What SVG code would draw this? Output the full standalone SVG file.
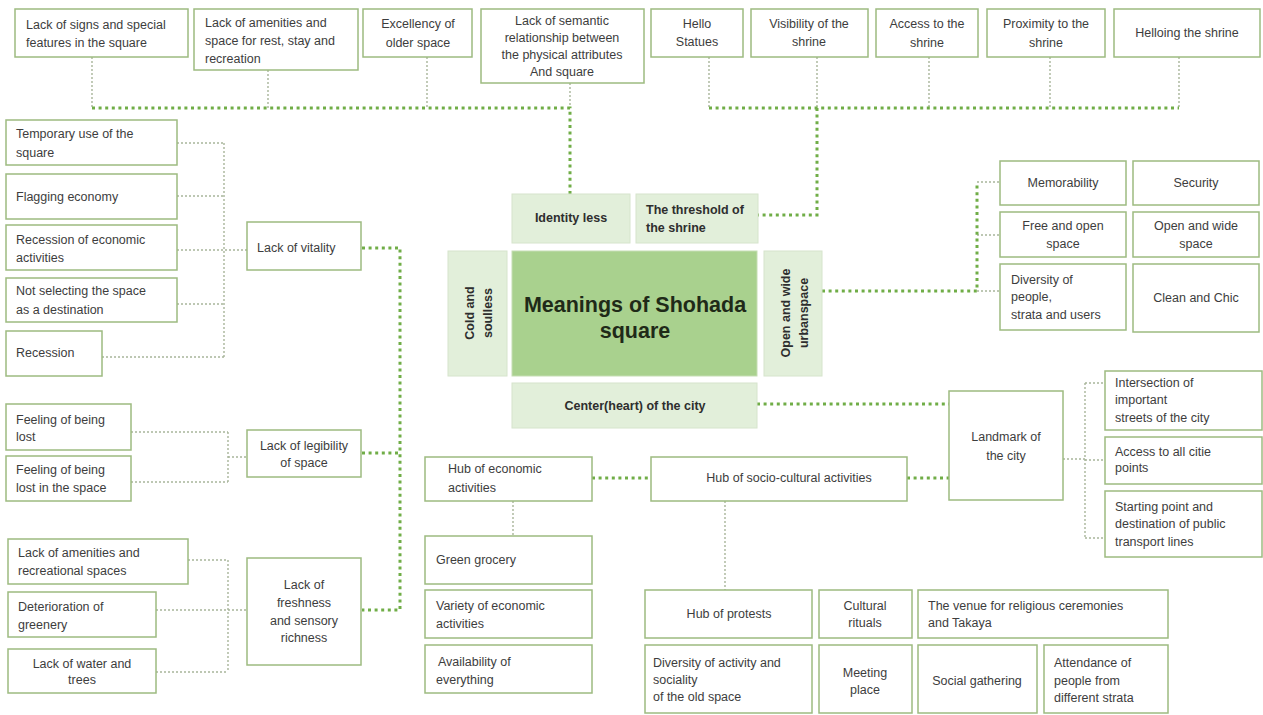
<svg xmlns="http://www.w3.org/2000/svg" width="1263" height="715" viewBox="0 0 1263 715">
<style>
.bx{fill:#fff;stroke:#9dbb80;stroke-width:1.5}
.cb{fill:#e2efda;stroke:#d6e4cc;stroke-width:1}
.mb{fill:#a9d18e;stroke:#c5ddb3;stroke-width:1}
text{font-family:"Liberation Sans",Arial,sans-serif;font-size:12.5px;fill:#3d3d3d}
.c{text-anchor:middle}
.b{font-weight:bold;fill:#2e2e2e}
.title{font-size:21.5px;font-weight:bold;fill:#1f2a18;text-anchor:middle}
.thk{fill:none;stroke:#70ad47;stroke-width:3;stroke-dasharray:3 3.6}
.thn{fill:none;stroke:#a8b59a;stroke-width:1.4;stroke-dasharray:2 2}
</style>
<rect width="1263" height="715" fill="#fff"/>
<g id="connectors">
<path class="thn" d="M92,57V108M268,70V108M427,57V108M570,83V108M709,57V108M817,57V108M929,57V108M1050,57V108M1179,57V108"/>
<path class="thn" d="M977,182H1000M977,235H1000M977,291H1000"/>
<path class="thn" d="M1063,459H1085M1085,383V538M1085,383H1105M1085,460H1105M1085,538H1105"/>
<path class="thn" d="M513,501V536M725,501V590"/>
<path class="thn" d="M177,143H224M177,196H224M177,250H247M177,304H224M102,357H224M224,143V357"/>
<path class="thn" d="M131,432H228M131,482H228M228,432V482M228,457H247"/>
<path class="thn" d="M188,560H228M156,610H247M156,672H228M228,560V672"/>
<path class="thk" d="M92,108H570V194"/>
<path class="thk" d="M709,108H1179"/>
<path class="thk" d="M817,108V215H758"/>
<path class="thk" d="M822,291H977V182"/>
<path class="thk" d="M757,404H949"/>
<path class="thk" d="M907,478H949"/>
<path class="thk" d="M592,478H651"/>
<path class="thk" d="M362,248H400V610H362"/>
<path class="thk" d="M362,453H400"/>
</g>
<g id="n-signs"><rect class="bx" x="15" y="9" width="173" height="48"/><text x="26" y="29">Lack of signs and special</text><text x="26" y="47">features in the square</text></g>
<g id="n-amenities-rest"><rect class="bx" x="194" y="9" width="164" height="61"/><text x="205" y="27">Lack of amenities and</text><text x="205" y="45">space for rest, stay and</text><text x="205" y="63">recreation</text></g>
<g id="n-excellency"><rect class="bx" x="363" y="9" width="109" height="48"/><text class="c" x="418" y="28">Excellency of</text><text class="c" x="418" y="47">older space</text></g>
<g id="n-semantic"><rect class="bx" x="481" y="9" width="163" height="74"/><text class="c" x="562" y="25">Lack of semantic</text><text class="c" x="562" y="42">relationship between</text><text class="c" x="562" y="59">the physical attributes</text><text class="c" x="562" y="76">And square</text></g>
<g id="n-hello"><rect class="bx" x="651" y="9" width="92" height="48"/><text class="c" x="697" y="28">Hello</text><text class="c" x="697" y="46">Statues</text></g>
<g id="n-visibility"><rect class="bx" x="751" y="9" width="117" height="48"/><text class="c" x="809" y="28">Visibility of the</text><text class="c" x="809" y="46">shrine</text></g>
<g id="n-access-shrine"><rect class="bx" x="876" y="9" width="102" height="48"/><text class="c" x="927" y="28">Access to the</text><text class="c" x="927" y="47">shrine</text></g>
<g id="n-proximity"><rect class="bx" x="987" y="9" width="118" height="48"/><text class="c" x="1046" y="28">Proximity to the</text><text class="c" x="1046" y="47">shrine</text></g>
<g id="n-helloing"><rect class="bx" x="1114" y="9" width="146" height="48"/><text class="c" x="1187" y="37">Helloing the shrine</text></g>
<g id="n-temporary"><rect class="bx" x="6" y="120" width="171" height="45"/><text x="16" y="138">Temporary use of the</text><text x="16" y="157">square</text></g>
<g id="n-flagging"><rect class="bx" x="6" y="174" width="171" height="45"/><text x="16" y="201">Flagging economy</text></g>
<g id="n-recession-econ"><rect class="bx" x="6" y="225" width="171" height="45"/><text x="16" y="244">Recession of economic</text><text x="16" y="262">activities</text></g>
<g id="n-not-selecting"><rect class="bx" x="6" y="278" width="171" height="44"/><text x="16" y="295">Not selecting the space</text><text x="16" y="314">as a destination</text></g>
<g id="n-recession"><rect class="bx" x="6" y="331" width="96" height="45"/><text x="16" y="357">Recession</text></g>
<g id="n-vitality"><rect class="bx" x="247" y="222" width="114" height="48"/><text x="257" y="252">Lack of vitality</text></g>
<g id="n-lost"><rect class="bx" x="6" y="404" width="125" height="46"/><text x="16" y="424">Feeling of being</text><text x="16" y="441">lost</text></g>
<g id="n-lost-space"><rect class="bx" x="6" y="456" width="125" height="45"/><text x="16" y="474">Feeling of being</text><text x="16" y="492">lost in the space</text></g>
<g id="n-legibility"><rect class="bx" x="247" y="430" width="114" height="47"/><text class="c" x="304" y="450">Lack of legibility</text><text class="c" x="304" y="467">of space</text></g>
<g id="n-amenities-rec"><rect class="bx" x="8" y="539" width="180" height="45"/><text x="18" y="557">Lack of amenities and</text><text x="18" y="575">recreational spaces</text></g>
<g id="n-greenery"><rect class="bx" x="8" y="592" width="148" height="45"/><text x="18" y="611">Deterioration of</text><text x="18" y="629">greenery</text></g>
<g id="n-water"><rect class="bx" x="8" y="649" width="148" height="44"/><text class="c" x="82" y="668">Lack of water and</text><text class="c" x="82" y="684">trees</text></g>
<g id="n-freshness"><rect class="bx" x="247" y="558" width="114" height="107"/><text class="c" x="304" y="589">Lack of</text><text class="c" x="304" y="607">freshness</text><text class="c" x="304" y="625">and sensory</text><text class="c" x="304" y="642">richness</text></g>
<g id="n-identity"><rect class="cb" x="512" y="194" width="118" height="49"/><text class="b c" x="571" y="222">Identity less</text></g>
<g id="n-threshold"><rect class="cb" x="636" y="194" width="122" height="49"/><text class="b" x="646" y="214">The threshold of</text><text class="b" x="646" y="232">the shrine</text></g>
<g id="n-cold"><rect class="cb" x="448" y="251" width="59" height="125"/><g transform="translate(478,313) rotate(-90)"><text class="b c" x="0" y="-4.5">Cold and</text><text class="b c" x="0" y="13.5">soulless</text></g></g>
<g id="n-main"><rect class="mb" x="512" y="251" width="245" height="125"/><text class="title" x="635" y="312">Meanings of Shohada</text><text class="title" x="635" y="338">square</text></g>
<g id="n-open-urban"><rect class="cb" x="764" y="251" width="58" height="125"/><g transform="translate(794,313) rotate(-90)"><text class="b c" x="0" y="-4.5">Open and wide</text><text class="b c" x="0" y="13.5">urbanspace</text></g></g>
<g id="n-center"><rect class="cb" x="512" y="383" width="245" height="45"/><text class="b c" x="635" y="410">Center(heart) of the city</text></g>
<g id="n-memorability"><rect class="bx" x="1000" y="161" width="126" height="44"/><text class="c" x="1063" y="187">Memorability</text></g>
<g id="n-security"><rect class="bx" x="1133" y="161" width="126" height="44"/><text class="c" x="1196" y="187">Security</text></g>
<g id="n-free-open"><rect class="bx" x="1000" y="212" width="126" height="45"/><text class="c" x="1063" y="230">Free and open</text><text class="c" x="1063" y="248">space</text></g>
<g id="n-open-wide"><rect class="bx" x="1133" y="212" width="126" height="45"/><text class="c" x="1196" y="230">Open and wide</text><text class="c" x="1196" y="248">space</text></g>
<g id="n-diversity-people"><rect class="bx" x="1000" y="264" width="126" height="66"/><text x="1011" y="284">Diversity of</text><text x="1011" y="301">people,</text><text x="1011" y="319">strata and users</text></g>
<g id="n-clean"><rect class="bx" x="1133" y="264" width="126" height="68"/><text class="c" x="1196" y="302">Clean and Chic</text></g>
<g id="n-landmark"><rect class="bx" x="949" y="391" width="114" height="109"/><text class="c" x="1006" y="441">Landmark of</text><text class="c" x="1006" y="460">the city</text></g>
<g id="n-intersection"><rect class="bx" x="1105" y="371" width="157" height="59"/><text x="1115" y="387">Intersection of</text><text x="1115" y="404">important</text><text x="1115" y="422">streets of the city</text></g>
<g id="n-access-all"><rect class="bx" x="1105" y="437" width="157" height="47"/><text x="1115" y="456">Access to all citie</text><text x="1115" y="472">points</text></g>
<g id="n-starting"><rect class="bx" x="1105" y="491" width="157" height="66"/><text x="1115" y="511">Starting point and</text><text x="1115" y="528">destination of public</text><text x="1115" y="546">transport lines</text></g>
<g id="n-hub-econ"><rect class="bx" x="425" y="457" width="167" height="44"/><text x="448" y="473">Hub of economic</text><text x="448" y="492">activities</text></g>
<g id="n-hub-socio"><rect class="bx" x="651" y="457" width="256" height="44"/><text class="c" x="789" y="482">Hub of socio-cultural activities</text></g>
<g id="n-grocery"><rect class="bx" x="425" y="536" width="167" height="48"/><text x="436" y="564">Green grocery</text></g>
<g id="n-variety"><rect class="bx" x="425" y="590" width="167" height="48"/><text x="436" y="610">Variety of economic</text><text x="436" y="628">activities</text></g>
<g id="n-availability"><rect class="bx" x="425" y="645" width="167" height="48"/><text x="438" y="666">Availability of</text><text x="436" y="684">everything</text></g>
<g id="n-protests"><rect class="bx" x="645" y="590" width="167" height="48"/><text class="c" x="729" y="618">Hub of protests</text></g>
<g id="n-rituals"><rect class="bx" x="819" y="590" width="93" height="48"/><text class="c" x="865" y="610">Cultural</text><text class="c" x="865" y="627">rituals</text></g>
<g id="n-venue"><rect class="bx" x="918" y="590" width="250" height="48"/><text x="928" y="610">The venue for religious ceremonies</text><text x="928" y="627">and Takaya</text></g>
<g id="n-diversity-activity"><rect class="bx" x="645" y="645" width="167" height="68"/><text x="653" y="667">Diversity of activity and</text><text x="653" y="684">sociality</text><text x="653" y="701">of the old space</text></g>
<g id="n-meeting"><rect class="bx" x="819" y="645" width="93" height="68"/><text class="c" x="865" y="677">Meeting</text><text class="c" x="865" y="694">place</text></g>
<g id="n-social"><rect class="bx" x="918" y="645" width="119" height="68"/><text class="c" x="977" y="685">Social gathering</text></g>
<g id="n-attendance"><rect class="bx" x="1044" y="645" width="124" height="68"/><text x="1054" y="667">Attendance of</text><text x="1054" y="685">people from</text><text x="1054" y="702">different strata</text></g>
</svg>
